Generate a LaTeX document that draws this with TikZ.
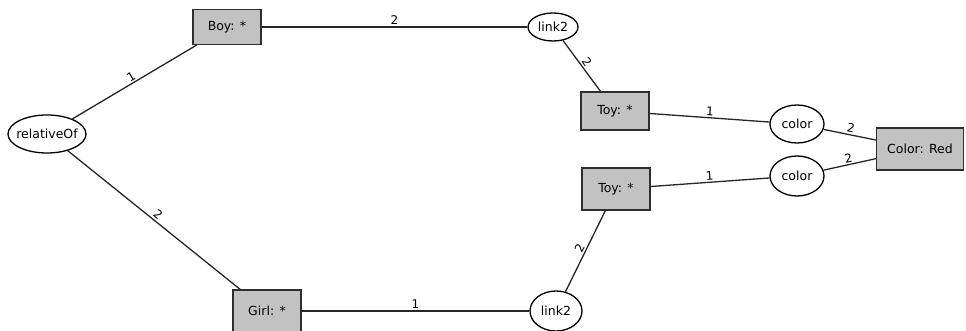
\documentclass[tikz,border=0pt]{standalone}
\usepackage{fontspec}
\setmainfont{DejaVu Sans}
\usetikzlibrary{shapes.geometric}
\definecolor{boxgray}{HTML}{C2C2C2}
\definecolor{boxline}{HTML}{2E2E2E}
\tikzset{
  concept/.style={draw=boxline, fill=boxgray, line width=1.3pt, rectangle, inner sep=0pt, font=\fontsize{12.5}{14}\selectfont},
  relation/.style={draw=black, fill=white, line width=1.3pt, ellipse, inner sep=0pt, font=\fontsize{12.5}{14}\selectfont},
  arc/.style={draw=black!85, line width=1.3pt},
  lbl/.style={font=\fontsize{12}{14}\selectfont, sloped, above, inner sep=1.5pt}
}
\begin{document}
\begin{tikzpicture}[x=1pt,y=-1pt]
\useasboundingbox (0,0) rectangle (966,331);
\node[relation, inner xsep=-9pt, minimum width=78pt, minimum height=38pt] (rel) at (47,134) {relativeOf};
\node[concept, minimum width=68pt, minimum height=35pt] (boy) at (227,27) {Boy: *};
\node[relation, minimum width=50pt, minimum height=28pt] (linka) at (553,27) {link2};
\node[concept, minimum width=68pt, minimum height=38pt] (toya) at (615,111) {Toy: *};
\node[relation, minimum width=54pt, minimum height=38pt] (cola) at (797,124) {color};
\node[concept, minimum width=87pt, minimum height=42pt] (red) at (920,149) {Color: Red};
\node[relation, minimum width=54pt, minimum height=40pt] (colb) at (797,176) {color};
\node[concept, minimum width=68pt, minimum height=42pt] (toyb) at (616,189) {Toy: *};
\node[concept, minimum width=68pt, minimum height=42pt] (girl) at (267,311) {Girl: *};
\node[relation, minimum width=52pt, minimum height=40pt] (linkb) at (556,311) {link2};

\draw[arc] (rel) -- node[lbl] {1} (boy);
\draw[arc] (rel) -- node[lbl] {2} (girl);
\draw[arc] (boy) -- node[lbl] {2} (linka);
\draw[arc] (linka) -- node[lbl] {2} (toya);
\draw[arc] (toya) -- node[lbl] {1} (cola);
\draw[arc] (cola) -- node[lbl] {2} (red);
\draw[arc] (toyb) -- node[lbl] {1} (colb);
\draw[arc] (colb) -- node[lbl] {2} (red);
\draw[arc] (girl) -- node[lbl] {1} (linkb);
\draw[arc] (linkb) -- node[lbl] {2} (toyb);
\end{tikzpicture}
\end{document}
